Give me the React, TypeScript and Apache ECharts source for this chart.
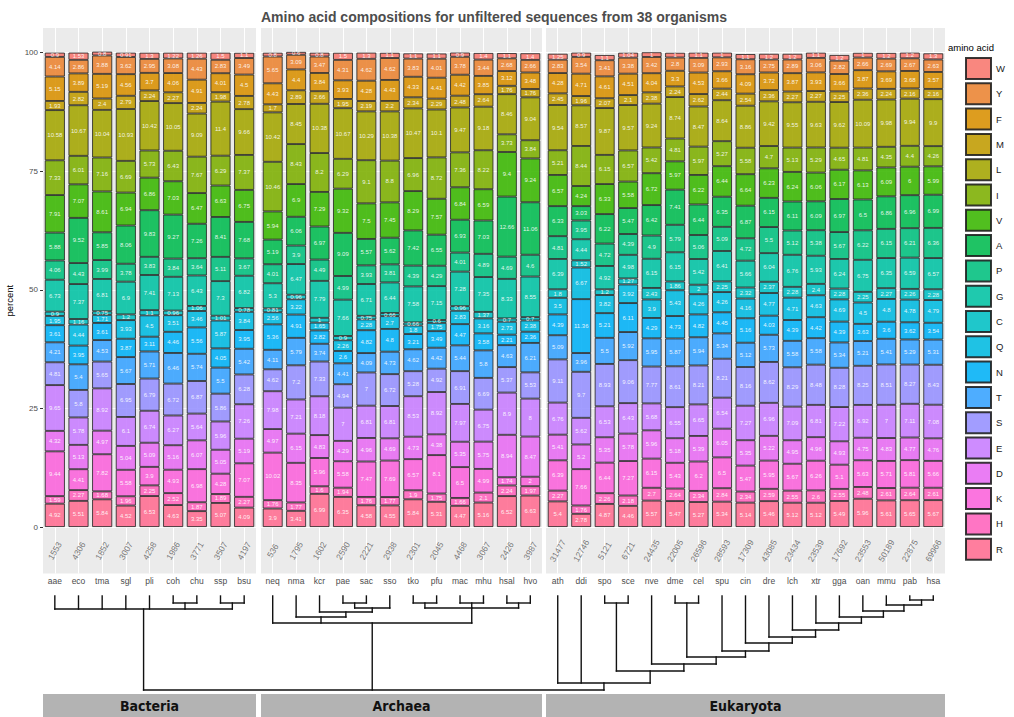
import React, { useEffect, useRef } from 'react';
import * as echarts from 'echarts';

// ---------- categories ----------
const bacteria = ['aae', 'eco', 'tma', 'sgl', 'pli', 'coh', 'chu', 'ssp', 'bsu'];
const archaea = ['neq', 'nma', 'kcr', 'pae', 'sac', 'sso', 'tko', 'pfu', 'mac', 'mhu', 'hsal', 'hvo'];
const eukaryota = ['ath', 'ddi', 'spo', 'sce', 'nve', 'dme', 'cel', 'spu', 'cin', 'dre', 'lch', 'xtr', 'gga', 'oan', 'mmu', 'pab', 'hsa'];
const domainNames = ['Bacteria', 'Archaea', 'Eukaryota'];

// number of sequences per organism (same order as above)
const sequenceCounts = [
  1553, 4306, 1852, 3007, 4258, 1986, 3771, 3507, 4197,
  536, 1795, 1602, 2590, 2221, 2938, 2301, 2045, 4468, 3067, 2426, 3987,
  31477, 12746, 5121, 6721, 24435, 22005, 26596, 28593, 17309, 43085, 23434, 23539, 17692, 23553, 50189, 22875, 69966,
];

// stacking order bottom -> top
const stackOrder = ['R', 'H', 'K', 'D', 'E', 'S', 'T', 'N', 'Q', 'C', 'G', 'P', 'A', 'V', 'I', 'L', 'M', 'F', 'Y', 'W'];
const legendOrder = ['W', 'Y', 'F', 'M', 'L', 'I', 'V', 'A', 'P', 'G', 'C', 'Q', 'N', 'T', 'S', 'E', 'D', 'K', 'H', 'R'];
const yTicks = [0, 25, 50, 75, 100];

// ---------- percent values per amino acid (38 organisms) ----------
const R = [4.92, 5.51, 5.84, 4.52, 6.53, 4.63, 3.35, 5.07, 4.09, 3.9, 3.41, 6.99, 6.35, 4.58, 4.55, 5.84, 5.31, 4.47, 5.16, 6.52, 6.63, 5.4, 2.78, 4.87, 4.46, 5.57, 5.47, 5.27, 5.34, 5.14, 5.46, 5.12, 5.12, 5.49, 5.96, 5.61, 5.65, 5.67];
const H = [1.59, 2.27, 1.68, 1.96, 2.25, 2.52, 1.87, 1.89, 2.27, 1.76, 1.77, 1.6, 1.94, 1.76, 1.77, 1.9, 1.75, 1.66, 2.1, 2.24, 1.97, 2.27, 1.76, 2.26, 2.18, 2.7, 2.64, 2.34, 2.84, 2.34, 2.59, 2.55, 2.6, 2.55, 2.48, 2.61, 2.64, 2.61];
const K = [9.44, 4.41, 7.82, 5.58, 3.9, 4.93, 6.98, 4.28, 7.07, 10.02, 8.35, 5.96, 5.58, 7.47, 7.69, 6.57, 8.1, 6.5, 4.99, 1.74, 2, 6.39, 7.66, 6.44, 7.27, 6.15, 5.43, 6.2, 6.5, 5.47, 5.95, 5.67, 6.26, 5.1, 5.63, 5.71, 5.81, 5.66];
const D = [4.32, 5.13, 4.97, 5.04, 5.09, 5.16, 6.07, 5.05, 5.19, 4.97, 6.15, 4.83, 4.29, 4.96, 4.69, 4.73, 4.38, 5.35, 5.75, 8.94, 8.47, 5.41, 5.2, 5.35, 5.78, 5.96, 5.18, 5.39, 6.05, 5.35, 5.22, 4.95, 4.96, 4.93, 4.75, 4.83, 4.77, 4.76];
const E = [9.65, 5.78, 8.92, 6.1, 6.74, 6.27, 5.64, 5.96, 7.26, 7.98, 7.21, 8.18, 7, 6.81, 6.81, 8.53, 8.92, 7.97, 6.75, 8.9, 8, 6.76, 5.62, 6.53, 6.43, 5.68, 6.55, 6.65, 6.54, 7.27, 6.96, 7.09, 6.81, 7.22, 6.92, 7, 7.11, 7.08];
const S = [4.81, 5.8, 5.65, 6.95, 6.79, 6.72, 6.87, 5.86, 6.28, 4.62, 7.2, 7.33, 4.94, 7, 6.72, 5.28, 4.92, 6.91, 6.69, 5.37, 5.53, 9.11, 9.7, 8.93, 9.06, 7.77, 8.61, 8.21, 8.21, 8.16, 8.62, 8.29, 8.48, 8.28, 8.25, 8.51, 8.27, 8.43];
const T = [4.21, 5.4, 4.53, 5.67, 5.71, 6.46, 5.74, 5.5, 5.42, 4.11, 5.79, 3.74, 4.41, 4.09, 4.73, 4.62, 4.42, 5.44, 5.8, 4.63, 6.21, 5.09, 3.96, 5.5, 5.92, 5.95, 5.87, 5.94, 5.34, 5.12, 5.73, 5.58, 5.58, 5.34, 5.21, 5.41, 5.29, 5.31];
const N = [3.61, 3.95, 3.61, 3.87, 3.11, 4.46, 5.56, 4.05, 3.95, 5.36, 4.91, 2.82, 2.6, 4.82, 4.8, 3.21, 3.49, 4.47, 3.58, 2.21, 2.36, 4.39, 11.36, 5.21, 6.11, 4.29, 4.73, 4.82, 4.45, 5.16, 4.03, 4.39, 4.42, 4.39, 3.63, 3.6, 3.62, 3.54];
const Q = [1.95, 4.44, 1.71, 3.93, 4.5, 3.51, 3.46, 5.87, 3.84, 2.56, 3.22, 1.65, 2.26, 2.28, 2.7, 1.8, 1.75, 2.83, 3.16, 2.73, 2.38, 3.5, 6.67, 3.82, 3.92, 3.9, 5.43, 4.26, 4.26, 4.16, 4.77, 4.71, 4.63, 4.69, 4.5, 4.8, 4.78, 4.79];
const C = [0.9, 1.16, 0.75, 1.2, 1.1, 0.96, 1.06, 1.01, 0.78, 0.81, 0.96, 1, 0.9, 0.75, 0.66, 0.66, 0.6, 0.96, 1.37, 0.7, 0.7, 1.8, 1.52, 1.2, 1.27, 2.43, 1.86, 2, 2.25, 2.32, 2.37, 2.28, 2.4, 2.28, 2.25, 2.27, 2.26, 2.28];
const G = [6.73, 7.37, 6.81, 6.9, 7.41, 7.13, 6.43, 7.3, 6.82, 5.3, 6.47, 7.79, 7.66, 6.71, 6.44, 7.58, 7.15, 7.28, 7.35, 8.33, 8.55, 6.39, 4.44, 4.92, 4.98, 6.15, 6.15, 5.42, 6.41, 5.66, 6.04, 6.76, 5.93, 6.24, 6.75, 6.35, 6.59, 6.57];
const P = [4.06, 4.43, 3.99, 3.78, 3.83, 3.84, 3.64, 5.11, 3.67, 4.01, 3.9, 4.49, 4.99, 3.93, 3.81, 4.39, 4.29, 4.01, 4.89, 4.69, 4.6, 4.81, 3.95, 4.72, 4.39, 4.9, 5.79, 5.06, 5.09, 4.72, 5.5, 5.12, 5.38, 5.67, 6.22, 6.15, 6.21, 6.36];
const A = [5.88, 9.52, 5.85, 8.06, 9.83, 9.27, 7.26, 8.41, 7.68, 5.19, 6.06, 6.97, 9.09, 5.57, 5.62, 7.42, 6.55, 6.93, 7.03, 12.66, 11.06, 6.33, 3.03, 6.22, 5.47, 6.42, 7.41, 6.44, 6.35, 6.87, 6.15, 6.11, 6.09, 6.97, 6.5, 6.86, 6.96, 6.99];
const V = [7.91, 7.07, 8.61, 6.94, 6.86, 7.03, 6.47, 6.63, 6.75, 5.94, 6.9, 7.29, 9.32, 7.5, 7.45, 8.29, 7.57, 6.84, 6.59, 9.4, 9.24, 6.57, 4.24, 6.33, 5.58, 6.72, 5.97, 6.22, 6.44, 6.64, 6.23, 6.24, 6.06, 6.17, 6.13, 6.09, 6, 5.99];
const I = [7.33, 6.01, 7.16, 6.69, 5.73, 6.43, 7.67, 6.29, 7.37, 10.46, 8.43, 8.2, 6.29, 9.1, 8.8, 6.96, 8.72, 7.36, 8.22, 3.73, 3.84, 5.21, 8.44, 6.15, 6.57, 5.42, 4.81, 5.97, 5.27, 5.58, 4.7, 5.13, 5.29, 4.65, 4.81, 4.35, 4.4, 4.26];
const L = [10.58, 10.67, 10.04, 10.93, 10.42, 10.05, 9.09, 11.4, 9.66, 10.42, 8.45, 10.38, 10.67, 10.29, 10.38, 10.47, 10.1, 9.47, 9.18, 8.46, 9.04, 9.54, 8.57, 9.87, 9.57, 9.24, 8.74, 8.47, 8.64, 8.86, 9.42, 9.55, 9.63, 9.62, 10.09, 9.98, 9.94, 9.9];
const M = [1.93, 2.82, 2.4, 2.79, 2.24, 2.27, 2.24, 1.98, 2.78, 1.7, 2.89, 2.66, 1.95, 2.19, 2.2, 2.34, 2.29, 2.48, 2.64, 1.76, 1.76, 2.45, 1.96, 2.07, 2.1, 2.38, 2.24, 2.62, 2.44, 2.54, 2.36, 2.27, 2.27, 2.25, 2.36, 2.24, 2.16, 2.16];
const F = [5.15, 3.89, 5.19, 4.56, 3.7, 4.06, 4.91, 4.01, 4.5, 4.43, 4.4, 3.84, 3.93, 4.28, 4.43, 4.33, 4.41, 4.42, 3.85, 3.12, 3.48, 4.28, 4.71, 4.61, 4.51, 4.04, 3.3, 4.53, 3.66, 4.09, 3.72, 3.87, 3.93, 3.66, 3.87, 3.69, 3.68, 3.57];
const Y = [4.14, 2.86, 3.88, 3.62, 2.95, 3.08, 4.43, 2.83, 3.49, 5.65, 3.09, 3.47, 4.31, 4.62, 4.62, 3.83, 4.01, 3.78, 3.44, 2.68, 2.66, 2.83, 3.54, 3.41, 3.38, 3.42, 2.8, 3.09, 2.93, 3.16, 2.75, 2.89, 3.06, 2.82, 2.66, 2.69, 2.67, 2.63];
const W = [0.9, 1.53, 0.8, 0.91, 1.3, 1.22, 1.26, 1.5, 1.1, 0.8, 0.6, 0.8, 1.5, 1.3, 1.1, 1.1, 1.1, 0.9, 1.4, 1.1, 1.4, 1.25, 0.9, 1.1, 1.04, 1.0, 1.0, 1.1, 1.0, 1.1, 1.2, 1.2, 1.1, 1.2, 1.0, 1.2, 1.2, 1.3];

// ---------- dendrogram (merge heights) ----------
type TreeNode = string | { h: number; c: TreeNode[] };
const bacteriaTree: TreeNode = { h: 13, c: ['aae', 'eco', 'tma', 'sgl', 'pli', { h: 7, c: ['coh', 'chu'] }, { h: 7, c: ['ssp', 'bsu'] }] };
const archaeaTree: TreeNode = {
  h: 27,
  c: [
    'neq',
    { h: 21, c: ['nma', { h: 16, c: ['kcr', { h: 12, c: [{ h: 7, c: ['pae', 'sac'] }, 'sso'] }] }] },
    { h: 12, c: [{ h: 7, c: ['tko', 'pfu'] }, { h: 7, c: ['mac', 'mhu'] }, { h: 7, c: ['hsal', 'hvo'] }] },
  ],
};
const vertebrates: TreeNode = { h: 47, c: ['cin', { h: 41, c: ['dre', { h: 34, c: ['lch', { h: 27, c: ['xtr', { h: 21, c: ['gga', { h: 15, c: ['oan', { h: 9, c: ['mmu', { h: 4, c: ['pab', 'hsa'] }] }] }] }] }] }] }] };
const eukaryotaTree: TreeNode = {
  h: 87,
  c: ['ath', 'ddi', { h: 75, c: [{ h: 7, c: ['spo', 'sce'] }, { h: 68, c: ['nve', { h: 61, c: [{ h: 7, c: ['dme', 'cel'] }, { h: 55, c: ['spu', vertebrates] }] }] }] }],
};
const rootTree: TreeNode = { h: 94, c: [bacteriaTree, archaeaTree, eukaryotaTree] };

// ---------- styles ----------
const composition: Record<string, number[]> = { R, H, K, D, E, S, T, N, Q, C, G, P, A, V, I, L, M, F, Y, W };
const aaColors: Record<string, string> = {
  W: '#F8766D', Y: '#EA8331', F: '#D89000', M: '#C09B00', L: '#A3A500', I: '#7CAE00', V: '#39B600',
  A: '#00BB4E', P: '#00BF7D', G: '#00C1A3', C: '#00BFC4', Q: '#00BAE0', N: '#00B0F6', T: '#35A2FF',
  S: '#9590FF', E: '#C77CFF', D: '#E76BF3', K: '#FA62DB', H: '#FF62BC', R: '#FF6C91',
};
const FONT = "'Liberation Sans', Arial, sans-serif";
const panels = [
  { names: bacteria, left: 43, width: 213 },
  { names: archaea, left: 261, width: 281 },
  { names: eukaryota, left: 546, width: 399 },
];
const GRID_TOP = 28;
const GRID_H = 545.5;
const Y_MIN = -9.8;
const Y_MAX = 105.2;
const COUNT_Y = -5;

function buildOption() {
  const grids: any[] = [];
  const xAxes: any[] = [];
  const yAxes: any[] = [];
  const series: any[] = [];
  let start = 0;
  panels.forEach((p, pi) => {
    grids.push({ left: p.left, top: GRID_TOP, width: p.width, height: GRID_H, show: true, backgroundColor: '#EBEBEB', borderWidth: 0 });
    xAxes.push({
      type: 'category', gridIndex: pi, data: p.names,
      axisLine: { show: false },
      axisTick: { show: true, alignWithLabel: true, length: 3, lineStyle: { color: '#333' } },
      axisLabel: { fontSize: 8.5, color: '#4d4d4d', margin: 3, fontFamily: FONT, interval: 0 },
      splitLine: { show: false },
    });
    yAxes.push({
      type: 'value', gridIndex: pi, min: Y_MIN, max: Y_MAX, show: pi === 0,
      name: pi === 0 ? 'percent' : '', nameLocation: 'middle', nameGap: 29, nameRotate: 90,
      nameTextStyle: { fontSize: 9.5, color: '#000', fontFamily: FONT },
      axisLine: { show: false },
      axisTick: { show: true, length: 3, customValues: yTicks, lineStyle: { color: '#333' } },
      axisLabel: { fontSize: 8, color: '#4d4d4d', margin: 5, customValues: yTicks, fontFamily: FONT },
      splitLine: { show: false },
    });
    const end = start + p.names.length;
    stackOrder.forEach((aa) => {
      series.push({
        type: 'bar', name: aa, xAxisIndex: pi, yAxisIndex: pi, stack: 'panel' + pi,
        data: composition[aa].slice(start, end),
        barCategoryGap: '15%', z: 3,
        itemStyle: { color: aaColors[aa], opacity: 0.88, borderColor: '#1e1e1e', borderWidth: 0.9 },
        label: {
          show: true, position: 'inside', fontSize: 6, color: '#ffffff', fontFamily: FONT,
          formatter: (q: any) => String(q.value),
        },
        emphasis: { disabled: true },
      });
    });
    series.push({
      type: 'scatter', xAxisIndex: pi, yAxisIndex: pi, z: 1, silent: true,
      symbolSize: 1, itemStyle: { color: 'rgba(0,0,0,0)' },
      data: p.names.map((n, i) => [n, COUNT_Y, sequenceCounts[start + i]]),
      label: {
        show: true, position: 'inside', rotate: 60, fontSize: 8.5, color: '#555', fontFamily: FONT,
        formatter: (q: any) => String(q.value[2]),
      },
      markLine: {
        silent: true, symbol: 'none', z: 1, animation: false,
        label: { show: false },
        lineStyle: { color: '#ffffff', width: 1, type: 'solid' },
        data: [...p.names.map((n) => ({ xAxis: n })), ...yTicks.map((v) => ({ yAxis: v }))],
      },
    });
    start = end;
  });
  // dendrogram coordinate grid
  grids.push({ left: 43, top: 596, width: 902, height: 94, show: false });
  xAxes.push({ type: 'value', gridIndex: 3, min: 0, max: 1, show: false });
  yAxes.push({ type: 'value', gridIndex: 3, min: 0, max: 94, inverse: true, show: false });

  return {
    animation: false,
    backgroundColor: '#ffffff',
    grid: grids,
    xAxis: xAxes,
    yAxis: yAxes,
    legend: {
      data: legendOrder, orient: 'vertical', left: 960, top: 52,
      itemWidth: 25, itemHeight: 21, itemGap: 2.3, icon: 'rect', selectedMode: false,
      textStyle: { fontSize: 9.5, color: '#222', fontFamily: FONT },
    },
    series,
  };
}

function buildGraphics(chart: any) {
  const els: any[] = [];
  const leafX = (name: string): number => {
    for (let pi = 0; pi < panels.length; pi++) {
      if (panels[pi].names.includes(name)) return chart.convertToPixel({ xAxisIndex: pi }, name);
    }
    return 0;
  };
  const yOf = (h: number): number => chart.convertToPixel({ yAxisIndex: 3 }, h);
  const line = (x1: number, y1: number, x2: number, y2: number) => ({
    type: 'line', silent: true, z: 10,
    shape: { x1, y1, x2, y2 },
    style: { stroke: '#111', lineWidth: 1.4, lineCap: 'square' },
  });
  const place = (node: TreeNode): { x: number; h: number } => {
    if (typeof node === 'string') return { x: leafX(node), h: 0 };
    const kids = node.c.map(place);
    const xs = kids.map((k) => k.x);
    const x0 = Math.min(...xs);
    const x1 = Math.max(...xs);
    const y = yOf(node.h);
    els.push(line(x0, y, x1, y));
    kids.forEach((k) => els.push(line(k.x, yOf(k.h), k.x, y)));
    return { x: (x0 + x1) / 2, h: node.h };
  };
  place(rootTree);

  // title
  els.push({
    type: 'text', x: 494, y: 17, silent: true,
    style: {
      text: 'Amino acid compositions for unfiltered sequences from 38 organisms',
      fontSize: 14, fontWeight: 'bold', fontFamily: FONT, fill: '#4d4d4d',
      align: 'center', verticalAlign: 'middle', textAlign: 'center', textVerticalAlign: 'middle',
    },
  });
  // legend title
  els.push({
    type: 'text', x: 948, y: 47, silent: true,
    style: { text: 'amino acid', fontSize: 9.5, fontFamily: FONT, fill: '#000', align: 'left', verticalAlign: 'middle', textAlign: 'left', textVerticalAlign: 'middle' },
  });
  // domain strips
  panels.forEach((p, pi) => {
    els.push({ type: 'rect', silent: true, shape: { x: p.left, y: 694, width: p.width, height: 23 }, style: { fill: '#b3b3b3' } });
    els.push({
      type: 'text', x: p.left + p.width / 2, y: 706, silent: true,
      style: {
        text: domainNames[pi], fontSize: 14, fontWeight: 'bold',
        fontFamily: "'Liberation Sans Narrow', 'DejaVu Sans Condensed', sans-serif", fill: '#111',
        align: 'center', verticalAlign: 'middle', textAlign: 'center', textVerticalAlign: 'middle',
      },
    });
  });
  return els;
}

export default function App() {
  const ref = useRef<HTMLDivElement>(null);
  useEffect(() => {
    const el = ref.current;
    if (!el) return;
    const chart = echarts.init(el, null, { renderer: 'svg' });
    chart.setOption(buildOption());
    chart.setOption({ graphic: buildGraphics(chart) });
    return () => chart.dispose();
  }, []);
  return (
    <div
      ref={ref}
      style={{ position: 'fixed', left: 0, top: 0, width: 1014, height: 717, background: '#fff' }}
    />
  );
}
